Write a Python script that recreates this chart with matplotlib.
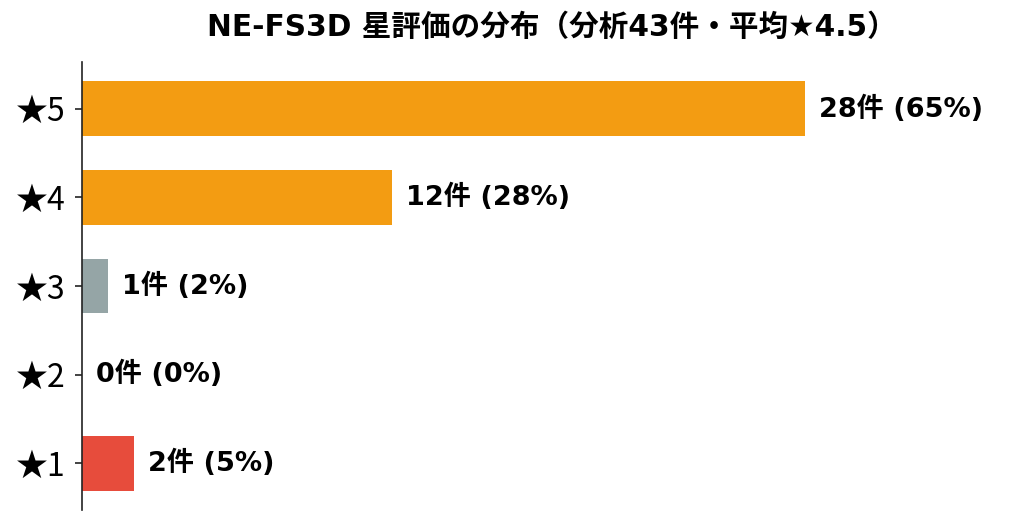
import matplotlib
matplotlib.use("Agg")
import matplotlib.pyplot as plt

plt.rcParams['font.family'] = ['DejaVu Sans', 'Noto Sans CJK JP']

labels = ["★5", "★4", "★3", "★2", "★1"]
counts = [28, 12, 1, 0, 2]
pcts = [65, 28, 2, 0, 5]
colors = ["#F39C12", "#F39C12", "#95A5A6", "#E74C3C", "#E74C3C"]
title = "NE-FS3D 星評価の分布（分析43件・平均★4.5）"

fig = plt.figure(figsize=(10.35, 5.24), dpi=100)
ax = fig.add_axes([82 / 1035, 14 / 524, 940 / 1035, 448 / 524])

ypos = list(range(len(labels)))[::-1]
ax.barh(ypos, counts, height=0.62, color=colors)
ax.set_yticks(ypos)
ax.set_yticklabels(labels, fontsize=23, family=['Noto Sans CJK JP', 'DejaVu Sans'])
ax.set_xticks([])
ax.set_xlim(0, max(counts) * 1.3)
ax.set_ylim(-0.53, 4.53)

for y, c, p in zip(ypos, counts, pcts):
    ax.annotate(f"{c}件 ({p}%)", (c, y), xytext=(10, 0), textcoords="offset points",
                va="center", ha="left", fontsize=19.5, fontweight="bold")

for s in ["top", "right", "bottom"]:
    ax.spines[s].set_visible(False)
ax.spines["left"].set_color("#222222")
ax.spines["left"].set_linewidth(1.2)
ax.tick_params(axis="y", length=5, width=1.2, color="#222222", pad=7)

ax.set_title(title, fontsize=21.3, fontweight="bold", pad=19)
fig.savefig("out.png", dpi=100)
